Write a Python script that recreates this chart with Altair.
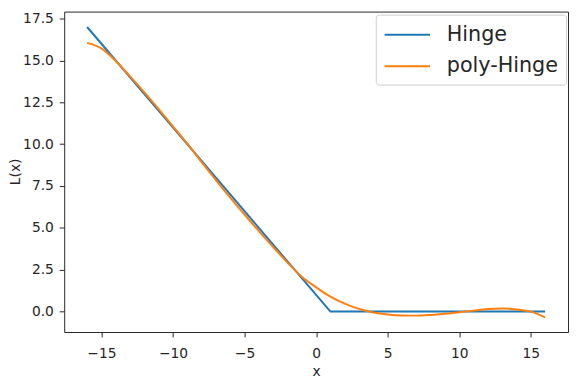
import altair as alt
import pandas as pd

# Hinge loss vertices
hinge_x = [-16, 1, 16]
hinge_y = [17.0, 0.0, 0.0]

# Polynomial approximation
poly_x = list(range(-16, 17))
poly_y = [16.05, 15.72, 14.97, 14.05, 13.10, 12.10, 11.07, 10.03, 8.93, 7.86,
          6.81, 5.80, 4.81, 3.86, 2.93, 2.08, 1.45, 0.90, 0.48, 0.16,
          -0.05, -0.17, -0.23, -0.24, -0.20, -0.13, -0.04, 0.06, 0.15, 0.19,
          0.13, 0.00, -0.34]

series_names = ["Hinge", "poly-Hinge"]
series_colors = ["#1f77b4", "#ff7f0e"]
x_ticks = [-15, -10, -5, 0, 5, 10, 15]
y_ticks = [0, 2.5, 5, 7.5, 10, 12.5, 15, 17.5]

df_h = pd.DataFrame({"x": hinge_x, "y": hinge_y, "series": series_names[0]})
df_p = pd.DataFrame({"x": poly_x, "y": poly_y, "series": series_names[1]})

FONT = "DejaVu Sans"
TXT = "#262626"

x_enc = alt.X("x:Q", scale=alt.Scale(domain=[-17.6, 17.6], nice=False, zero=False),
              axis=alt.Axis(values=x_ticks, format="d", title="x",
                            labelPadding=10, titleX=255.5, titleY=44,
                            titleBaseline="alphabetic", titleAlign="center"))
y_enc = alt.Y("y:Q", scale=alt.Scale(domain=[-1.22, 17.92], nice=False, zero=False),
              axis=alt.Axis(values=y_ticks, format=".1f", title="L(x)",
                            labelPadding=6, titleX=-49, titleY=162, titleAngle=270,
                            titleAlign="center", titleBaseline="middle"))
color_enc = alt.Color("series:N",
                      scale=alt.Scale(domain=series_names, range=series_colors),
                      legend=alt.Legend(title=None, orient="none", legendX=316, legendY=3,
                                        strokeColor="#cccccc", fillColor="#ffffff",
                                        cornerRadius=3, padding=8,
                                        labelFont=FONT, labelFontSize=21, labelColor=TXT,
                                        symbolType="M-2,0L2,0", symbolSize=529,
                                        symbolOffset=11.5, symbolStrokeWidth=2,
                                        labelOffset=27.5, rowPadding=9))

hinge = alt.Chart(df_h).mark_line(strokeWidth=2, interpolate="linear").encode(
    x=x_enc, y=y_enc, color=color_enc)
poly = alt.Chart(df_p).mark_line(strokeWidth=2, interpolate="monotone").encode(
    x=x_enc, y=y_enc, color=color_enc)

chart = alt.layer(hinge, poly).properties(
    width=511, height=325,
    autosize=alt.AutoSizeParams(type="none"),
    padding={"left": 57, "top": 1, "right": 2, "bottom": 46},
).configure_view(
    stroke=TXT, strokeWidth=1
).configure_axis(
    domain=False, grid=False, tickColor=TXT, tickSize=5, tickWidth=1,
    labelFont=FONT, labelFontSize=14, labelColor=TXT,
    titleFont=FONT, titleFontSize=14, titleFontWeight="normal", titleColor=TXT
)

chart.save("out.html", embed_options={"renderer": "svg", "actions": False})
